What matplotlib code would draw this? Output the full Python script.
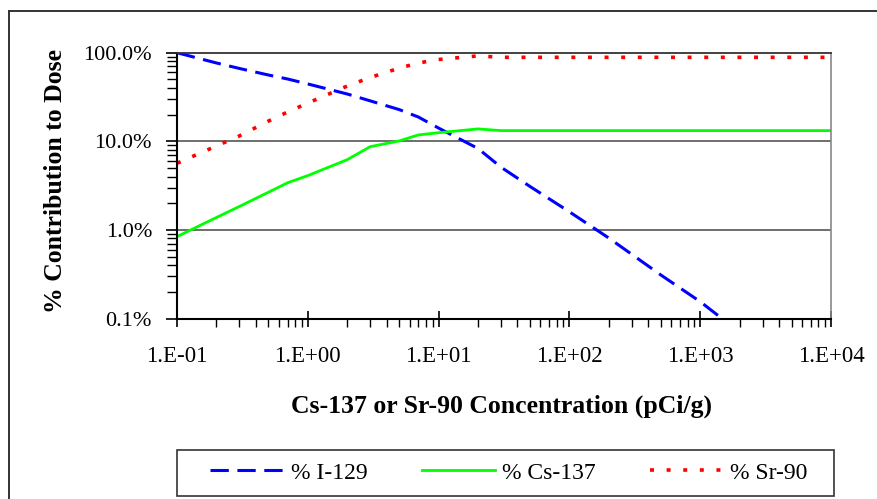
import matplotlib
matplotlib.use("Agg")
import matplotlib.pyplot as plt
from matplotlib.lines import Line2D
from matplotlib.patches import Rectangle
from matplotlib.ticker import FixedLocator, NullFormatter

plt.rcParams['font.family'] = ['Liberation Serif', 'DejaVu Serif']

# concentration (pCi/g)
conc = [0.1, 0.2, 0.3, 0.5, 0.7, 1, 2, 3, 5, 7, 10, 20, 30, 50, 100, 200, 500,
        1000, 2000, 5000, 10000]

# % contribution to dose
pct_i129 = [100, 76.6, 66.4, 56, 50.5, 44.4, 34.2, 28.6, 22.8, 18.8, 14.1, 8.3,
            5.1, 3.09, 1.6, 0.81, 0.31, 0.155, 0.07, 0.028, 0.014]
pct_cs137 = [0.84, 1.38, 1.84, 2.66, 3.4, 4.1, 6.2, 8.7, 10.1, 11.8, 12.5, 13.8,
             13.2, 13.2, 13.2, 13.2, 13.2, 13.2, 13.2, 13.2, 13.2]
pct_sr90 = [5.65, 8.85, 11.5, 16.9, 21.4, 27, 42, 52.5, 67, 76.5, 83.8, 92,
            88.7, 88.7, 88.7, 88.7, 88.7, 88.7, 88.7, 88.7, 88.7]

x_ticks = [0.1, 1, 10, 100, 1000, 10000]
x_labels = ['1.E-01', '1.E+00', '1.E+01', '1.E+02', '1.E+03', '1.E+04']
y_ticks = [0.1, 1, 10, 100]
y_labels = ['0.1%', '1.0%', '10.0%', '100.0%']

W, H = 878, 499
fig = plt.figure(figsize=(W / 100, H / 100), dpi=100)
ax = fig.add_axes([177 / W, 1 - 318.5 / H, (831 - 177) / W, (318.5 - 52.7) / H])

ax.plot(conc, pct_i129, color='#0000FF', lw=2.2, dashes=(6, 2.8), label='% I-129')
ax.plot(conc, pct_cs137, color='#00FF00', lw=2, label='% Cs-137')
ax.plot(conc, pct_sr90, color='#FF0000', lw=2.6, dashes=(1.1, 3.5), label='% Sr-90')

ax.set_xscale('log')
ax.set_yscale('log')
ax.set_xlim(0.1, 10000)
ax.set_ylim(0.1, 100)

ax.xaxis.set_major_locator(FixedLocator(x_ticks))
ax.set_xticklabels(x_labels)
ax.xaxis.set_minor_locator(FixedLocator([m * 10.0 ** e for e in range(-1, 4) for m in range(2, 10)]))
ax.xaxis.set_minor_formatter(NullFormatter())
ax.yaxis.set_major_locator(FixedLocator(y_ticks))
ax.set_yticklabels(y_labels)
ax.yaxis.set_minor_locator(FixedLocator([m * 10.0 ** e for e in range(-1, 2) for m in range(2, 10)]))
ax.yaxis.set_minor_formatter(NullFormatter())

ax.tick_params(axis='x', which='major', direction='inout', length=12, width=1.2,
               labelsize=16.5, pad=14)
ax.tick_params(axis='x', which='minor', direction='out', length=6, width=1)
ax.tick_params(axis='y', which='major', direction='out', length=8, width=1.2,
               labelsize=16, pad=10)
ax.tick_params(axis='y', which='minor', direction='out', length=7, width=1)

for v in [1, 10]:
    ax.axhline(v, color='#555555', lw=1.2, zorder=0)

ax.spines['left'].set_color('black')
ax.spines['left'].set_linewidth(1.5)
ax.spines['bottom'].set_color('black')
ax.spines['bottom'].set_linewidth(1.5)
ax.spines['top'].set_color('#333333')
ax.spines['top'].set_linewidth(1.3)
ax.spines['right'].set_color('#888888')
ax.spines['right'].set_linewidth(1.2)

fig.text(502 / W, 1 - 406 / H, 'Cs-137 or Sr-90 Concentration (pCi/g)',
         ha='center', va='center', fontsize=18.5, fontweight='bold')
fig.text(56 / W, 1 - 181 / H, '% Contribution to Dose', rotation=90,
         ha='center', va='center', fontsize=18.5, fontweight='bold')

# outer chart border
fig.add_artist(Line2D([8.5 / W, 8.5 / W], [0, 1 - 10.5 / H], transform=fig.transFigure,
                      color='#333333', lw=1.4))
fig.add_artist(Line2D([8.5 / W, 1], [1 - 10.5 / H, 1 - 10.5 / H], transform=fig.transFigure,
                      color='#333333', lw=1.4))

# legend box drawn separately so its size matches the original
fig.add_artist(Rectangle((177 / W, 1 - 496 / H), (834 - 177) / W, 46 / H,
                         transform=fig.transFigure, fill=False,
                         edgecolor='#333333', lw=1.2))
fig.legend(loc='center', bbox_to_anchor=(509 / W, 1 - 473 / H), ncol=3,
           fontsize=17, frameon=False, handlelength=3.1, handletextpad=0.3,
           columnspacing=2.3, borderpad=0.35, borderaxespad=0)

fig.savefig('out.png', dpi=100)
